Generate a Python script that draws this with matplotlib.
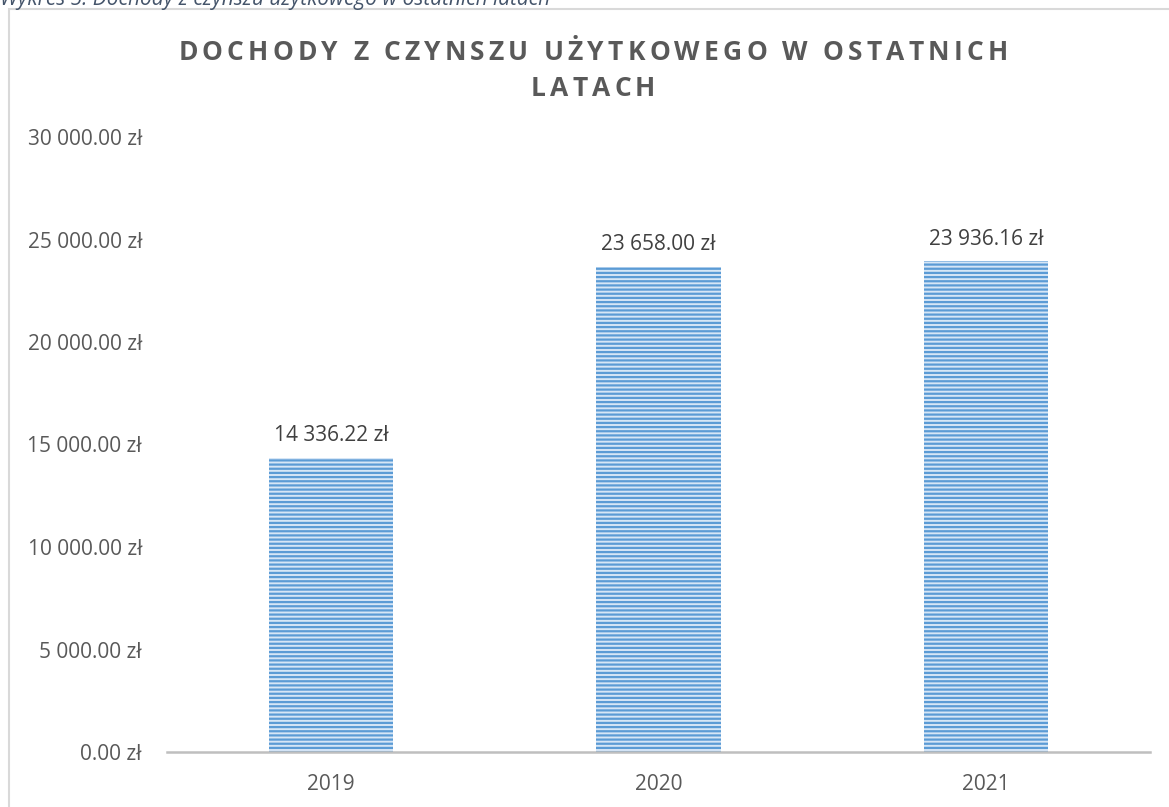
import matplotlib
matplotlib.use("Agg")
import matplotlib.pyplot as plt
from matplotlib.font_manager import FontProperties
from matplotlib.patches import Rectangle

# -------- Data --------
years = ["2019", "2020", "2021"]
income = [14336.22, 23658.00, 23936.16]
y_ticks = [0, 5000, 10000, 15000, 20000, 25000, 30000]
title_lines = ["DOCHODY Z CZYNSZU UŻYTKOWEGO W OSTATNICH", "LATACH"]
caption = "Wykres 5. Dochody z czynszu użytkowego w ostatnich latach"

W, H = 1169, 807
font = "Open Sans"
gray = "#595959"


def pln(v):
    s = f"{v:,.2f}".replace(",", " ")
    return s + " zł"


def spaced_title(fig, text, cx, cy, spacing, **kw):
    # matplotlib has no letter spacing, so place each character by hand
    renderer = fig.canvas.get_renderer()
    fp = FontProperties(family=kw.get("family"), weight=kw.get("weight"), size=kw.get("size"))
    wa, _, _ = renderer.get_text_width_height_descent("aa", fp, ismath=False)
    widths = []
    for ch in text:
        if ch == " ":
            w, _, _ = renderer.get_text_width_height_descent("a a", fp, ismath=False)
            w = w - wa
        else:
            w, _, _ = renderer.get_text_width_height_descent(ch, fp, ismath=False)
        widths.append(w)
    total = sum(widths) + spacing * (len(text) - 1)
    x = cx - total / 2
    for ch, w in zip(text, widths):
        fig.text(x / W, 1 - cy / H, ch, ha="left", va="center", **kw)
        x += w + spacing


plt.rcParams["hatch.linewidth"] = 1.6
plt.rcParams["font.family"] = [font, "DejaVu Sans"]

fig = plt.figure(figsize=(W / 100, H / 100), dpi=100)
ax = fig.add_axes([167 / W, 55 / H, 983 / W, 615 / H])

x = range(len(years))
ax.bar(x, income, width=0.38, color="#D6E6F6", edgecolor="#5B9BD5",
       hatch="----", linewidth=0, zorder=2)
for i, v in zip(x, income):
    ax.annotate(pln(v), (i, v), xytext=(0, 16), textcoords="offset points",
                ha="center", va="center", fontsize=15, color="#404040")

ax.set_xlim(-0.5, len(years) - 0.5)
ax.set_ylim(0, 30000)
ax.set_yticks(y_ticks)
ax.set_yticklabels([pln(t) for t in y_ticks], fontsize=15, color=gray)
ax.set_xticks(list(x))
ax.set_xticklabels(years, fontsize=15, color=gray)
ax.tick_params(axis="y", length=0, pad=18)
ax.tick_params(axis="x", length=0, pad=16)
for side in ["top", "right", "left"]:
    ax.spines[side].set_visible(False)
ax.spines["bottom"].set_color("#BFBFBF")
ax.spines["bottom"].set_linewidth(1.8)

# chart frame (cut off at right and bottom)
fig.patches.append(Rectangle((9 / W, -0.1), 1.2, 1 - 9 / H + 0.1, transform=fig.transFigure,
                             fill=False, edgecolor="#D9D9D9", linewidth=1.5))

# caption above the frame, partly cut off as in the source
fig.text(0.0, 1 - 5 / H, caption, ha="left", va="baseline", fontsize=15,
         style="italic", color="#44546A")

spaced_title(fig, title_lines[0], 593, 52, 4.2, family=[font, "DejaVu Sans"],
             weight="bold", size=19, color=gray)
spaced_title(fig, title_lines[1], 593, 88, 4.2, family=[font, "DejaVu Sans"],
             weight="bold", size=19, color=gray)

fig.savefig("out.png", dpi=100)
